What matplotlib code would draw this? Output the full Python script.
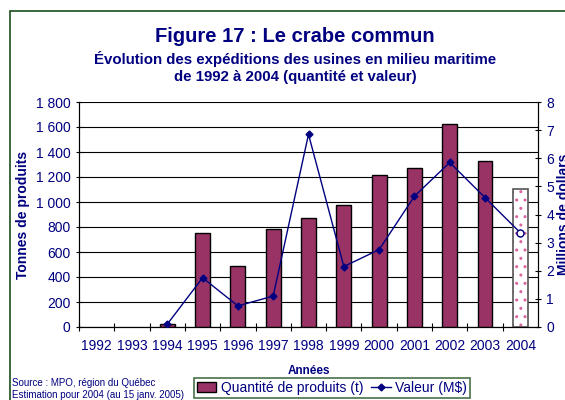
import matplotlib
matplotlib.use("Agg")
import matplotlib.pyplot as plt
from matplotlib.patches import Rectangle
from matplotlib.lines import Line2D

# Data
years = ["1992", "1993", "1994", "1995", "1996", "1997", "1998",
         "1999", "2000", "2001", "2002", "2003", "2004"]
tonnes = [0, 0, 25, 750, 490, 785, 870, 980, 1215, 1275, 1625, 1330, 1105]
valeur = [None, None, 0.1, 1.75, 0.75, 1.1, 6.85, 2.15, 2.75, 4.65, 5.85, 4.6, 3.35]
left_ticks = [0, 200, 400, 600, 800, 1000, 1200, 1400, 1600, 1800]
left_labels = ["0", "200", "400", "600", "800", "1 000", "1 200", "1 400", "1 600", "1 800"]
right_ticks = [0, 1, 2, 3, 4, 5, 6, 7, 8]

navy = "#000080"
bar_color = "#993366"

plt.rcParams["font.family"] = ["Liberation Sans", "DejaVu Sans"]

fig = plt.figure(figsize=(5.65, 4.0), dpi=100)
fig.patches.append(Rectangle((10 / 565, -0.01), 1.0, 1 - 11 / 400 + 0.01,
                             transform=fig.transFigure, fill=False,
                             edgecolor="#1a4d1a", linewidth=1.2))

ax = fig.add_axes([79 / 565, (400 - 327) / 400, (538 - 79) / 565, (327 - 102) / 400])
x = list(range(len(years)))

# measured bars (skip empty years so no stray edge is drawn)
mx = [i for i, t in zip(x[:-1], tonnes[:-1]) if t > 0]
mt = [t for t in tonnes[:-1] if t > 0]
ax.bar(mx, mt, width=0.42, color=bar_color, edgecolor="black",
       linewidth=1.0, zorder=3)
# 2004 estimate: white with pink pattern
ax.bar(x[-1], tonnes[-1], width=0.42, color="white", edgecolor="#d9669e",
       hatch="..", linewidth=0, zorder=3)
ax.bar(x[-1], tonnes[-1], width=0.42, fill=False, edgecolor="#555555",
       linewidth=1.2, zorder=4)

ax.set_xlim(-0.5, len(years) - 0.5)
ax.set_ylim(0, 1800)
ax.set_yticks(left_ticks)
ax.set_yticklabels(left_labels, color=navy, fontsize=10)
ax.yaxis.grid(True, color="black", linewidth=0.8, zorder=0)
ax.set_axisbelow(True)
ax.set_xticks([i + 0.5 for i in x[:-1]] + [-0.5], minor=False)
ax.set_xticklabels([])
ax.set_xticks(x, minor=True)
ax.set_xticklabels(years, minor=True, color=navy, fontsize=10)
ax.tick_params(axis="x", which="minor", length=0, pad=9)
ax.tick_params(axis="x", which="major", length=6, direction="inout")
ax.tick_params(axis="y", length=5, direction="inout")
ax.spines["top"].set_visible(False)
ax.set_xlabel("Années", color=navy, fontsize=8.5, fontweight="bold", labelpad=8)
ax.set_ylabel("Tonnes de produits", color=navy, fontsize=10, fontweight="bold", labelpad=4)

ax2 = ax.twinx()
ax2.set_ylim(0, 8)
ax2.set_yticks(right_ticks)
ax2.set_yticklabels([str(t) for t in right_ticks], color=navy, fontsize=10)
ax2.tick_params(axis="y", length=5, direction="inout")
ax2.spines["top"].set_visible(False)
xs = [i for i, v in zip(x, valeur) if v is not None]
vs = [v for v in valeur if v is not None]
ax2.plot(xs, vs, color=navy, linewidth=1.0, marker="D", markersize=3.5, zorder=5)
ax2.plot(xs[-1], vs[-1], marker="o", markersize=5, markerfacecolor="white",
         markeredgecolor=navy, zorder=6)
ax2.set_ylabel("Millions de dollars", color=navy, fontsize=10, fontweight="bold", labelpad=2)

fig.text(0.522, 1 - 37 / 400, "Figure 17 : Le crabe commun", ha="center", va="center",
         color=navy, fontsize=14.5, fontweight="bold")
fig.text(0.522, 1 - 59 / 400, "Évolution des expéditions des usines en milieu maritime",
         ha="center", va="center", color=navy, fontsize=10.8, fontweight="bold")
fig.text(0.522, 1 - 77 / 400, "de 1992 à 2004 (quantité et valeur)",
         ha="center", va="center", color=navy, fontsize=10.8, fontweight="bold")

fig.text(12 / 565, 1 - 383 / 400, "Source : MPO, région du Québec",
         color=navy, fontsize=7, va="center")
fig.text(12 / 565, 1 - 395 / 400, "Estimation pour 2004 (au 15 janv. 2005)",
         color=navy, fontsize=7, va="center")

handles = [Rectangle((0, 0), 1, 1, facecolor=bar_color, edgecolor="black"),
           Line2D([], [], color=navy, marker="D", markersize=3.5, linewidth=1.0)]
leg = fig.legend(handles, ["Quantité de produits (t)", "Valeur (M$)"],
                 loc="center", bbox_to_anchor=(332 / 565, 1 - 388 / 400), ncol=2,
                 fontsize=10, frameon=True, fancybox=False, handlelength=1.4,
                 handletextpad=0.3, columnspacing=0.6, borderpad=0.2,
                 labelcolor=navy)
leg.get_frame().set_edgecolor("#1a4d1a")
leg.get_frame().set_linewidth(1.2)

fig.savefig("out.png", dpi=100)
